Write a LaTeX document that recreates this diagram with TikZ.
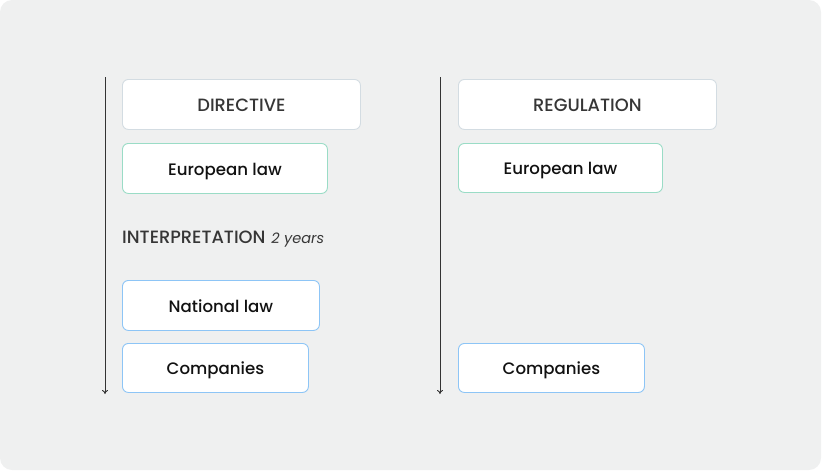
\documentclass[tikz,border=0pt]{standalone}
\usepackage{fontspec}
\setmainfont{Poppins}[UprightFont=* Medium, ItalicFont=* Italic]
\usetikzlibrary{arrows.meta}
\definecolor{bg}{HTML}{EFF0F0}
\definecolor{greyline}{HTML}{D3DCE2}
\definecolor{greenline}{HTML}{9ADCC6}
\definecolor{blueline}{HTML}{8DC5F6}
\definecolor{txt}{HTML}{111111}
\definecolor{headtxt}{HTML}{363636}
\tikzset{
  box/.style={draw, fill=white, rounded corners=6pt, line width=0.9pt, anchor=north west, inner sep=0pt, text height=14pt, text depth=0pt},
  headbox/.style={box, draw=greyline, text=headtxt, font=\fontsize{17.8}{20}\selectfont},
  eubox/.style={box, draw=greenline, text=txt, font=\fontsize{16.6}{18}\selectfont},
  natbox/.style={box, draw=blueline, text=txt, font=\fontsize{16.6}{18}\selectfont},
  timeline/.style={draw=black!80, line width=0.9pt, -{To[length=4pt,width=6pt]}},
}
\begin{document}
\begin{tikzpicture}[x=1pt,y=-1pt]
\useasboundingbox (0,0) rectangle (822,471);
\fill[bg, rounded corners=12pt] (0,0) rectangle (821,470);
% left column
\coordinate (la) at (105,77);
\coordinate (lb) at (105,394);
\draw[timeline] (la) -- (lb);
\node[headbox, minimum width=238pt, minimum height=50pt] (dir) at (122,79) {DIRECTIVE};
\node[eubox, minimum width=205pt, minimum height=50pt] (eul) at (122,143) {European law};
\node[anchor=base west, inner sep=0pt, text=headtxt] (interp) at (122,243) {\fontsize{17.8}{20}\selectfont INTERPRETATION\hspace{6pt}{\fontsize{14.5}{16}\selectfont\itshape 2 years}};
\node[natbox, minimum width=197pt, minimum height=50pt] (nat) at (122,280) {National law};
\node[natbox, minimum width=186pt, minimum height=49pt] (coml) at (122,343) {Companies};
% right column
\coordinate (ra) at (440,77);
\coordinate (rb) at (440,394);
\draw[timeline] (ra) -- (rb);
\node[headbox, minimum width=258pt, minimum height=50pt] (reg) at (458,79) {REGULATION};
\node[eubox, minimum width=204pt, minimum height=49pt] (eur) at (458,143) {European law};
\node[natbox, minimum width=186pt, minimum height=49pt] (comr) at (458,343) {Companies};
\end{tikzpicture}
\end{document}
